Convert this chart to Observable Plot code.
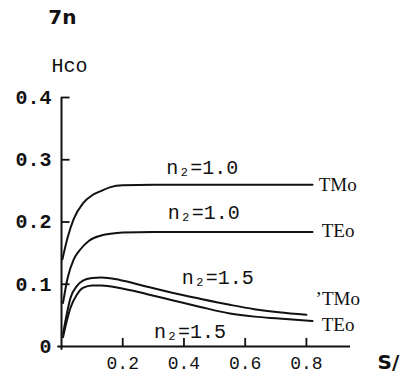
<!DOCTYPE html>
<html>
<head>
<meta charset="utf-8">
<script src="https://cdn.jsdelivr.net/npm/d3@7"></script>
<script src="https://cdn.jsdelivr.net/npm/@observablehq/plot@0.6"></script>
<style>
  html, body { margin: 0; padding: 0; background: #fff; }
  #chart svg { display: block; }
</style>
</head>
<body>
<div id="chart"></div>
<script>
// --- data ---
const tmN10X = [0.003, 0.02, 0.04, 0.07, 0.1, 0.13, 0.16, 0.2, 0.3, 0.5, 0.7, 0.82];
const tmN10Y = [0.14, 0.175, 0.205, 0.23, 0.243, 0.25, 0.256, 0.259, 0.26, 0.26, 0.26, 0.26];
const teN10X = [0.005, 0.02, 0.04, 0.06, 0.09, 0.127, 0.16, 0.2, 0.3, 0.5, 0.7, 0.82];
const teN10Y = [0.07, 0.11, 0.14, 0.155, 0.17, 0.178, 0.181, 0.183, 0.184, 0.184, 0.184, 0.184];
const tmN15X = [0.005, 0.03, 0.05, 0.07, 0.1, 0.13, 0.19, 0.28, 0.365, 0.45, 0.55, 0.63, 0.71, 0.8];
const tmN15Y = [0.02, 0.079, 0.097, 0.106, 0.11, 0.111, 0.107, 0.096, 0.086, 0.077, 0.067, 0.06, 0.055, 0.051];
const teN15X = [0.005, 0.03, 0.05, 0.07, 0.1, 0.13, 0.19, 0.28, 0.365, 0.45, 0.55, 0.63, 0.71, 0.82];
const teN15Y = [0.015, 0.063, 0.083, 0.094, 0.098, 0.098, 0.094, 0.084, 0.074, 0.064, 0.053, 0.048, 0.045, 0.041];

const xTicks = [0.2, 0.4, 0.6, 0.8];
const xTickLabels = ["0.2", "0.4", "0.6", "0.8"];
const yTicks = [0, 0.1, 0.2, 0.3, 0.4];
const yTickLabels = ["0", "0.1", "0.2", "0.3", "0.4"];

// curve labels: [text, x, y]
const n2Labels = [
  ["n\u2082=1.0", 0.46, 0.287],
  ["n\u2082=1.0", 0.465, 0.215],
  ["n\u2082=1.5", 0.51, 0.111],
  ["n\u2082=1.5", 0.42, 0.024]
];
const modeLabels = [
  ["TMo", 0.84, 0.259],
  ["TEo", 0.85, 0.186],
  ["\u02BCTMo", 0.83, 0.077],
  ["TEo", 0.85, 0.034]
];

const toRows = (xs, ys) => xs.map((x, i) => ({x, y: ys[i]}));
const series = [
  toRows(tmN10X, tmN10Y),
  toRows(teN10X, teN10Y),
  toRows(tmN15X, tmN15Y),
  toRows(teN15X, teN15Y)
];

const mono = "'Liberation Mono', 'DejaVu Sans Mono', monospace";
const serif = "'Liberation Serif', 'DejaVu Serif', serif";

const chart = Plot.plot({
  width: 405,
  height: 378,
  marginLeft: 61,
  marginRight: 55,
  marginTop: 97,
  marginBottom: 32,
  x: {domain: [0, 0.944], axis: null},
  y: {domain: [0, 0.4], axis: null},
  style: {background: "#fff", color: "#111"},
  marks: [
    // axes
    Plot.ruleX([0], {y1: -0.006, y2: 0.4, stroke: "#111", strokeWidth: 2}),
    Plot.ruleY([0], {x1: -0.012, x2: 0.944, stroke: "#111", strokeWidth: 2}),
    Plot.ruleY(yTicks.slice(1), {x1: 0, x2: 0.028, stroke: "#111", strokeWidth: 1.8}),
    Plot.ruleX(xTicks, {y1: 0, y2: 0.013, stroke: "#111", strokeWidth: 1.8}),
    // tick labels
    Plot.text(yTicks, {x: 0, y: d => d, text: (d, i) => yTickLabels[i], textAnchor: "end", dx: -10, fontSize: 20, fontWeight: "bold", fontFamily: mono, fill: "#111"}),
    Plot.text(xTicks, {x: d => d, y: 0, text: (d, i) => xTickLabels[i], dy: 17, fontSize: 18, fontFamily: mono, fill: "#111"}),
    // curves
    ...series.map(s => Plot.line(s, {x: "x", y: "y", curve: "monotone-x", stroke: "#111", strokeWidth: 2})),
    // labels
    Plot.text(n2Labels, {x: d => d[1], y: d => d[2], text: d => d[0], fontSize: 20, fontFamily: mono, fill: "#111"}),
    Plot.text(modeLabels, {x: d => d[1], y: d => d[2], text: d => d[0], textAnchor: "start", fontSize: 19, fontFamily: serif, fill: "#111"}),
    // axis titles and stray header text
    Plot.text(["Hco"], {x: 0.026, y: 0.452, text: d => d, fontSize: 20, fontFamily: mono, fill: "#111"}),
    Plot.text(["S/"], {x: 1.068, y: -0.026, text: d => d, fontSize: 20, fontWeight: "bold", fontFamily: "'DejaVu Sans', sans-serif", fill: "#111"}),
    Plot.text(["7n"], {x: 0.003, y: 0.528, text: d => d, fontSize: 20, fontWeight: "bold", fontFamily: "'DejaVu Sans', sans-serif", fill: "#111"})
  ]
});
document.getElementById("chart").appendChild(chart);
</script>
</body>
</html>
